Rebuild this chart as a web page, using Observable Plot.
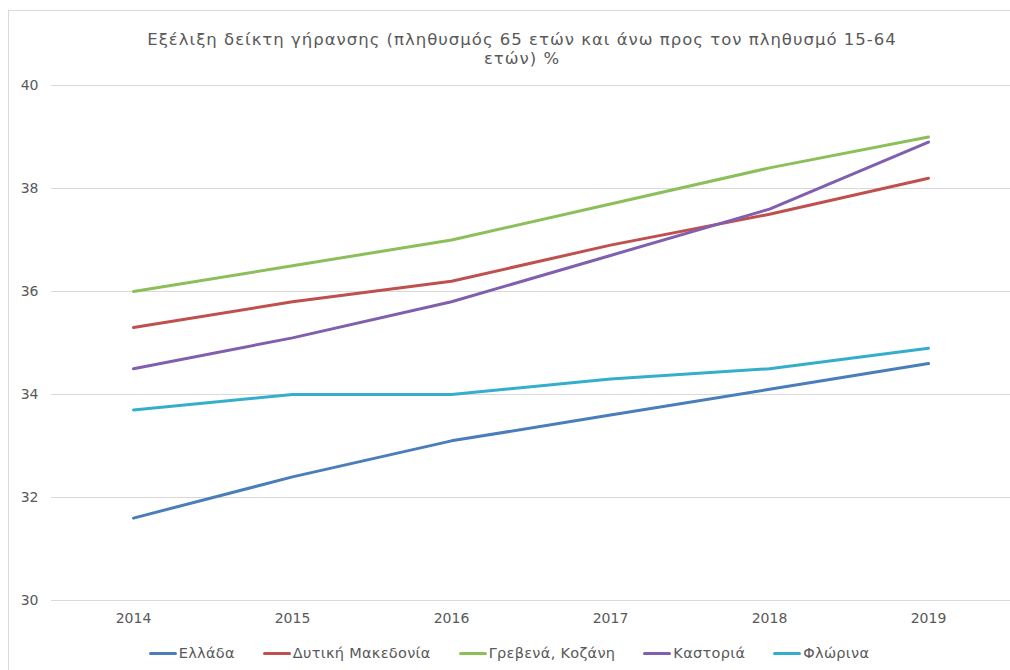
<!DOCTYPE html>
<html>
<head>
<meta charset="utf-8">
<script src="https://cdn.jsdelivr.net/npm/d3@7"></script>
<script src="https://cdn.jsdelivr.net/npm/@observablehq/plot@0.6"></script>
<style>
  html, body { margin: 0; padding: 0; background: #fff; }
  #wrap { position: relative; width: 1010px; height: 670px; overflow: hidden; font-family: "DejaVu Sans", sans-serif; }
  #box { position: absolute; left: 8px; top: 10px; width: 1020px; height: 700px; border: 1px solid #d9d9d9; box-sizing: border-box; }
  #title { position: absolute; left: 102px; width: 840px; top: 30px; text-align: center; font-size: 16.5px; letter-spacing: 1px; line-height: 19px; color: #595959; white-space: nowrap; }
  #chart { position: absolute; left: 0; top: 0; }
  #legend { position: absolute; left: 0; width: 1018px; top: 645px; display: flex; justify-content: center; gap: 28px; font-size: 14.5px; letter-spacing: 0.3px; color: #595959; }
  .item { display: flex; align-items: center; }
  .sw { display: inline-block; width: 28px; height: 3px; border-radius: 2px; margin-right: 2px; }
</style>
</head>
<body>
<div id="wrap">
  <div id="box"></div>
  <div id="chart"></div>
  <div id="title">Εξέλιξη δείκτη γήρανσης (πληθυσμός 65 ετών και άνω προς τον πληθυσμό 15-64<br>ετών) %</div>
  <div id="legend"></div>
</div>
<script>
const years = [2014, 2015, 2016, 2017, 2018, 2019];
const seriesNames = ["Ελλάδα", "Δυτική Μακεδονία", "Γρεβενά, Κοζάνη", "Καστοριά", "Φλώρινα"];
const seriesColors = ["#4a7ebb", "#c0504d", "#8cbf5a", "#7f5fae", "#35aecb"];
const ellada = [31.6, 32.4, 33.1, 33.6, 34.1, 34.6];
const dytikiMakedonia = [35.3, 35.8, 36.2, 36.9, 37.5, 38.2];
const grevenaKozani = [36.0, 36.5, 37.0, 37.7, 38.4, 39.0];
const kastoria = [34.5, 35.1, 35.8, 36.7, 37.6, 38.9];
const florina = [33.7, 34.0, 34.0, 34.3, 34.5, 34.9];
const yTicks = [30, 32, 34, 36, 38, 40];

const allValues = [ellada, dytikiMakedonia, grevenaKozani, kastoria, florina];
const data = [];
seriesNames.forEach((name, i) => {
  years.forEach((yr, j) => data.push({series: name, year: yr, value: allValues[i][j]}));
});

const chart = Plot.plot({
  width: 1010,
  height: 670,
  marginTop: 85,
  marginBottom: 70,
  marginLeft: 51,
  marginRight: 0,
  style: {fontFamily: "DejaVu Sans, sans-serif", fontSize: "14px", color: "#595959", background: "transparent"},
  x: {type: "point", domain: years, padding: 0.5, tickSize: 0, tickPadding: 13, tickFormat: d => String(d), label: null},
  y: {domain: [30, 40], ticks: yTicks, tickSize: 0, tickPadding: 13, label: null},
  color: {domain: seriesNames, range: seriesColors},
  marks: [
    Plot.gridY(yTicks, {stroke: "#d9d9d9", strokeOpacity: 1, strokeWidth: 1}),
    Plot.line(data, {x: "year", y: "value", stroke: "series", z: "series", strokeWidth: 3, strokeLinecap: "round", strokeLinejoin: "round"})
  ]
});
document.getElementById("chart").appendChild(chart);

const legend = document.getElementById("legend");
seriesNames.forEach((name, i) => {
  const it = document.createElement("div");
  it.className = "item";
  const sw = document.createElement("span");
  sw.className = "sw";
  sw.style.background = seriesColors[i];
  it.appendChild(sw);
  const t = document.createElement("span");
  t.textContent = name;
  it.appendChild(t);
  legend.appendChild(it);
});
</script>
</body>
</html>
